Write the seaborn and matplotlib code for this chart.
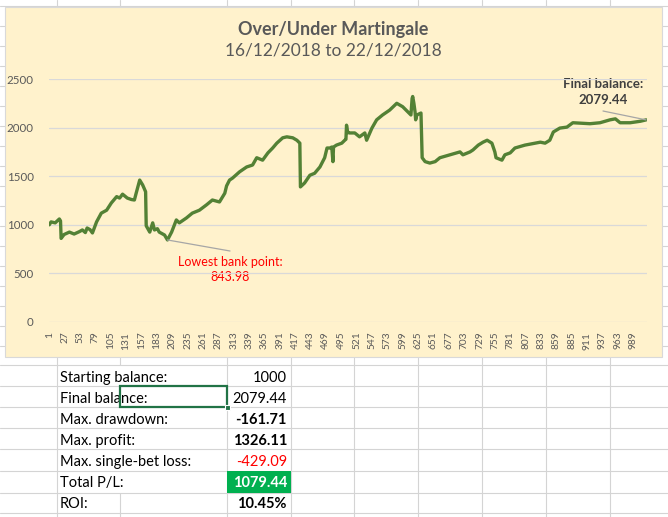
import pandas as pd
import matplotlib.pyplot as plt
import seaborn as sns
from matplotlib.patches import Rectangle

# bank balance (bet number, balance)
bet_no = [1, 4, 11, 18, 20, 21, 26, 35, 43, 52, 57, 62, 65, 70, 74, 81, 89, 98, 106, 115,
          120, 125, 133, 140, 145, 148, 154, 159, 164, 165, 171, 176, 179, 184, 187, 196, 201,
          208, 216, 221, 233, 243, 255, 267, 277, 289, 298, 301, 306, 311, 323, 335, 345, 352,
          362, 371, 379, 386, 396, 403, 413, 420, 425, 426, 433, 442, 450, 459, 467, 471, 476,
          479, 481, 482, 487, 496, 501, 503, 504, 506, 509, 518, 526, 535, 538, 547, 555, 565,
          577, 589, 599, 608, 613, 615, 616, 618, 620, 621, 623, 630, 632, 637, 645, 654, 662,
          679, 696, 701, 713, 718, 727, 735, 742, 750, 755, 757, 767, 772, 781, 789, 806, 823,
          832, 840, 848, 854, 865, 877, 887, 916, 933, 950, 959, 967, 984, 1001, 1011]
balance = [1000, 1030, 1020, 1060, 1040, 860, 900, 925, 905, 930, 947, 920, 967, 950, 916, 1030,
           1120, 1150, 1225, 1290, 1275, 1315, 1275, 1260, 1255, 1325, 1460, 1410, 1340, 990,
           925, 1020, 947, 960, 925, 895, 843.98, 925, 1050, 1020, 1070, 1120, 1150, 1205, 1255,
           1235, 1325, 1400, 1460, 1480, 1545, 1595, 1615, 1690, 1665, 1740, 1790, 1840, 1895,
           1905, 1895, 1870, 1840, 1390, 1430, 1510, 1530, 1595, 1690, 1790, 1790, 1800, 1650,
           1800, 1820, 1840, 1870, 1880, 2025, 1950, 1945, 1945, 1905, 1945, 1870, 1995, 2080,
           2130, 2180, 2250, 2215, 2160, 2130, 2300, 2320, 2250, 2160, 2080, 2130, 2150, 1690,
           1650, 1635, 1650, 1690, 1720, 1750, 1720, 1750, 1770, 1820, 1850, 1870, 1840, 1750,
           1690, 1665, 1720, 1740, 1790, 1820, 1840, 1850, 1840, 1870, 1955, 1995, 2005, 2050,
           2040, 2050, 2080, 2090, 2050, 2050, 2065, 2079.44]
n_bets = 1012
low_idx, low_val = 201, 843.98
final_idx, final_val = 1011, 2079.44

xtick_labels = list(range(1, 990, 26))
ytick_values = [0, 500, 1000, 1500, 2000, 2500]

stat_labels = ["Starting balance:", "Final balance:", "Max. drawdown:", "Max. profit:",
               "Max. single-bet loss:", "Total P/L:", "ROI:"]
stat_values = ["1000", "2079.44", "-161.71", "1326.11", "-429.09", "1079.44", "10.45%"]
stat_bold = [False, False, True, True, False, True, True]
stat_colors = ["black", "black", "black", "black", "#ff0000", "white", "black"]

sns.set_style("white")
plt.rcParams['font.family'] = ['Lato', 'DejaVu Sans']

W, H = 668, 517
fig = plt.figure(figsize=(W / 100, H / 100), dpi=100)
fig.patch.set_facecolor("white")

# spreadsheet background in pixel coordinates
bg = fig.add_axes([0, 0, 1, 1])
bg.set_xlim(0, W)
bg.set_ylim(H, 0)
bg.axis("off")

grid_c = "#d4d4d4"
col_x = [57, 120, 227, 291, 354, 418, 482, 546, 610]
row_y = [6 + 20 * k for k in range(18)] + [365, 386, 407, 428, 449, 471, 493, 513]
for x in col_x:
    if x == 120:
        bg.plot([x, x], [0, 365], color=grid_c, lw=0.8)
        bg.plot([x, x], [493, H], color=grid_c, lw=0.8)
    else:
        bg.plot([x, x], [0, H], color=grid_c, lw=0.8)
for y in row_y:
    bg.plot([0, W], [y, y], color=grid_c, lw=0.8)

# chart area
bg.add_patch(Rectangle((5, 7), 657, 350, facecolor="#fff2cc", edgecolor="#d9d9d9", lw=0.8, zorder=3))

# table
row_centers = [378, 399, 420, 441, 462, 483, 504]
bg.add_patch(Rectangle((227, 471), 64, 22, facecolor="#00b050", edgecolor="none", zorder=2))
for lab, val, b, c, yc in zip(stat_labels, stat_values, stat_bold, stat_colors, row_centers):
    bg.text(60, yc, lab, fontsize=10.5, va="center", ha="left", color="black", zorder=4)
    bg.text(287, yc, val, fontsize=10.5, va="center", ha="right", color=c,
            fontweight="bold" if b else "normal", zorder=4)
# selected cell
bg.add_patch(Rectangle((120, 386), 107, 21, facecolor="none", edgecolor="#217346", lw=1.6, zorder=5))
bg.add_patch(Rectangle((224.5, 404.5), 5, 5, facecolor="#217346", edgecolor="white", lw=0.8, zorder=6))

# titles
bg.text(333, 29, "Over/Under Martingale", fontsize=13, fontweight="bold", color="#595959",
        ha="center", va="center", zorder=4)
bg.text(333, 51, "16/12/2018 to 22/12/2018", fontsize=12.5, color="#595959",
        ha="center", va="center", zorder=4)

# line chart
ax = fig.add_axes([49 / W, (H - 322) / H, 598 / W, 243 / H], zorder=4)
ax.patch.set_alpha(0)
df = pd.DataFrame({"bet": bet_no, "balance": balance})
sns.lineplot(data=df, x="bet", y="balance", ax=ax, color="#538135", lw=2.4, zorder=3)
ax.set_xlim(0.5, n_bets + 0.5)
ax.set_ylim(0, 2500)
for v in ytick_values:
    ax.axhline(v, color="#d9d9d9", lw=0.9, zorder=1)
ax.set_yticks(ytick_values)
ax.set_yticklabels([str(v) for v in ytick_values], fontsize=8.3, color="#595959")
ax.set_xticks(xtick_labels)
ax.set_xticklabels([str(v) for v in xtick_labels], rotation=90, fontsize=7.3, color="#595959")
ax.tick_params(axis="x", length=0, pad=7)
ax.tick_params(axis="y", length=0, pad=11)
ax.set_xlabel("")
ax.set_ylabel("")
for s in ax.spines.values():
    s.set_visible(False)
ax.grid(False)

# annotations
ax.annotate("", xy=(low_idx, low_val), xytext=(230, 251), textcoords=bg.transData,
            arrowprops=dict(arrowstyle="-", color="#a6a6a6", lw=0.9, shrinkA=0, shrinkB=0))
bg.text(230, 262, "Lowest bank point:", fontsize=9, color="#ff0000", ha="center", va="center", zorder=5)
bg.text(230, 277, f"{low_val:.2f}", fontsize=9, color="#ff0000", ha="center", va="center", zorder=5)

ax.annotate("", xy=(final_idx, final_val), xytext=(603, 111), textcoords=bg.transData,
            arrowprops=dict(arrowstyle="-", color="#a6a6a6", lw=0.9, shrinkA=0, shrinkB=0))
bg.text(603, 84, "Final balance:", fontsize=9.5, fontweight="bold", color="#404040",
        ha="center", va="center", zorder=5)
bg.text(603, 100, f"{final_val:.2f}", fontsize=9.5, fontweight="bold", color="#404040",
        ha="center", va="center", zorder=5)

fig.savefig("out.png", dpi=100)
